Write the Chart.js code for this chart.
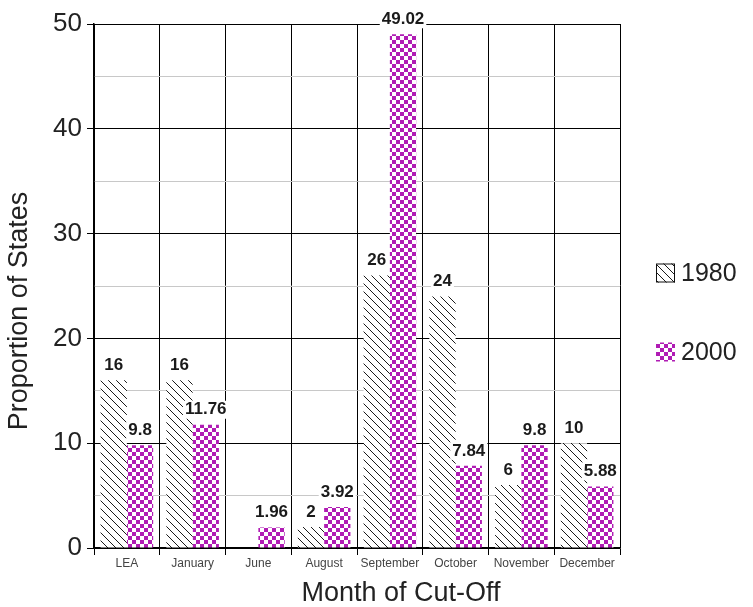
<!DOCTYPE html>
<html>
<head>
<meta charset="utf-8">
<script src="https://cdn.jsdelivr.net/npm/chart.js@4.4.1/dist/chart.umd.min.js"></script>
<style>
  html, body { margin: 0; padding: 0; background: #fff; }
  canvas { display: block; }
</style>
</head>
<body>
<canvas id="chart" width="753" height="607"></canvas>
<script>
// Cut-off month categories and the share of states for each year
const categories = ['LEA', 'January', 'June', 'August', 'September', 'October', 'November', 'December'];
const values1980 = [16, 16, 0, 2, 26, 24, 6, 10];
const values2000 = [9.8, 11.76, 1.96, 3.92, 49.02, 7.84, 9.8, 5.88];
const seriesNames = ['1980', '2000'];
const yTickLabels = [0, 10, 20, 30, 40, 50];
const xTitle = 'Month of Cut-Off';
const yTitle = 'Proportion of States';

const FONT = '"Liberation Sans", Arial, Helvetica, sans-serif';
const MAGENTA = '#b01cb4';

// Diagonal "\" hatching on white
function makeHatch() {
  const s = 8;
  const c = document.createElement('canvas');
  c.width = s; c.height = s;
  const g = c.getContext('2d');
  g.fillStyle = '#fff';
  g.fillRect(0, 0, s, s);
  g.strokeStyle = '#000';
  g.lineWidth = 0.9;
  g.beginPath();
  for (const k of [-s, 0, s]) {
    g.moveTo(k - 1, -1);
    g.lineTo(k + s + 1, s + 1);
  }
  g.stroke();
  return g.createPattern(c, 'repeat');
}

// Magenta / white checkerboard
function makeChecker() {
  const cell = 4;
  const c = document.createElement('canvas');
  c.width = cell * 2; c.height = cell * 2;
  const g = c.getContext('2d');
  g.fillStyle = '#fff';
  g.fillRect(0, 0, cell * 2, cell * 2);
  g.fillStyle = MAGENTA;
  g.fillRect(0, 0, cell, cell);
  g.fillRect(cell, cell, cell, cell);
  return g.createPattern(c, 'repeat');
}

const fills = [makeHatch(), makeChecker()];

// Bold value labels above each bar on a white backing
const valueLabels = {
  id: 'valueLabels',
  afterDatasetsDraw(chart) {
    const ctx = chart.ctx;
    ctx.save();
    ctx.font = 'bold 17px ' + FONT;
    ctx.textAlign = 'center';
    ctx.textBaseline = 'middle';
    chart.data.datasets.forEach((ds, di) => {
      chart.getDatasetMeta(di).data.forEach((bar, i) => {
        const v = ds.data[i];
        if (!v) return;
        const text = String(v);
        const w = ctx.measureText(text).width;
        const y = bar.y - 15;
        ctx.fillStyle = '#fff';
        ctx.fillRect(bar.x - w / 2 - 2, y - 9, w + 4, 18);
        ctx.fillStyle = '#1a1a1a';
        ctx.fillText(text, bar.x, y);
      });
    });
    ctx.restore();
  }
};

// Legend to the right of the plot: pattern swatch + year
const sideLegend = {
  id: 'sideLegend',
  afterDraw(chart) {
    const ctx = chart.ctx;
    const area = chart.chartArea;
    const x = area.right + 36;
    const centers = [area.top + 249, area.top + 328];
    const box = 19;
    ctx.save();
    ctx.font = '25px ' + FONT;
    ctx.textBaseline = 'middle';
    ctx.textAlign = 'left';
    chart.data.datasets.forEach((ds, i) => {
      const cy = centers[i];
      ctx.fillStyle = ds.backgroundColor;
      ctx.fillRect(x, cy - box / 2, box, box);
      if (i === 0) {
        ctx.strokeStyle = '#111';
        ctx.lineWidth = 1;
        ctx.strokeRect(x + 0.5, cy - box / 2 + 0.5, box - 1, box - 1);
      }
      ctx.fillStyle = '#222';
      ctx.fillText(ds.label, x + box + 6, cy + 1);
    });
    ctx.restore();
  }
};

// Axis titles
const axisTitles = {
  id: 'axisTitles',
  afterDraw(chart) {
    const ctx = chart.ctx;
    const area = chart.chartArea;
    ctx.save();
    ctx.font = '27px ' + FONT;
    ctx.fillStyle = '#222';
    ctx.textAlign = 'center';
    ctx.textBaseline = 'middle';
    ctx.fillText(xTitle, (area.left + area.right) / 2 + 44, chart.height - 13);
    ctx.translate(20, (area.top + area.bottom) / 2 + 25);
    ctx.rotate(-Math.PI / 2);
    ctx.fillText(yTitle, 0, 0);
    ctx.restore();
  }
};

new Chart(document.getElementById('chart').getContext('2d'), {
  type: 'bar',
  data: {
    labels: categories,
    datasets: [
      { label: seriesNames[0], data: values1980, backgroundColor: fills[0], borderWidth: 0 },
      { label: seriesNames[1], data: values2000, backgroundColor: fills[1], borderWidth: 0 }
    ]
  },
  options: {
    responsive: false,
    animation: false,
    layout: { padding: { top: 24, right: 133, left: 0, bottom: 0 } },
    datasets: { bar: { categoryPercentage: 0.8, barPercentage: 1.0 } },
    plugins: {
      legend: { display: false },
      tooltip: { enabled: false }
    },
    scales: {
      x: {
        grid: { color: '#000', lineWidth: 1, tickLength: 7, offset: true },
        border: { color: '#000', width: 1.5 },
        ticks: {
          font: { family: FONT, size: 12 },
          color: '#444',
          padding: 1,
          maxRotation: 0,
          autoSkip: false
        },
        afterFit(scale) { scale.height = 59; }
      },
      y: {
        min: 0,
        max: 50,
        ticks: {
          stepSize: 5,
          font: { family: FONT, size: 26 },
          color: '#222',
          padding: 5,
          callback: v => (yTickLabels.includes(v) ? v : '')
        },
        grid: {
          color: c => (yTickLabels.includes(c.tick.value) ? '#000' : '#c8c8c8'),
          tickColor: c => (yTickLabels.includes(c.tick.value) ? '#000' : 'rgba(0,0,0,0)'),
          lineWidth: 1,
          tickLength: 7
        },
        border: { color: '#000', width: 1.5 },
        afterFit(scale) { scale.width = 94; }
      }
    }
  },
  plugins: [valueLabels, sideLegend, axisTitles]
});
</script>
</body>
</html>
